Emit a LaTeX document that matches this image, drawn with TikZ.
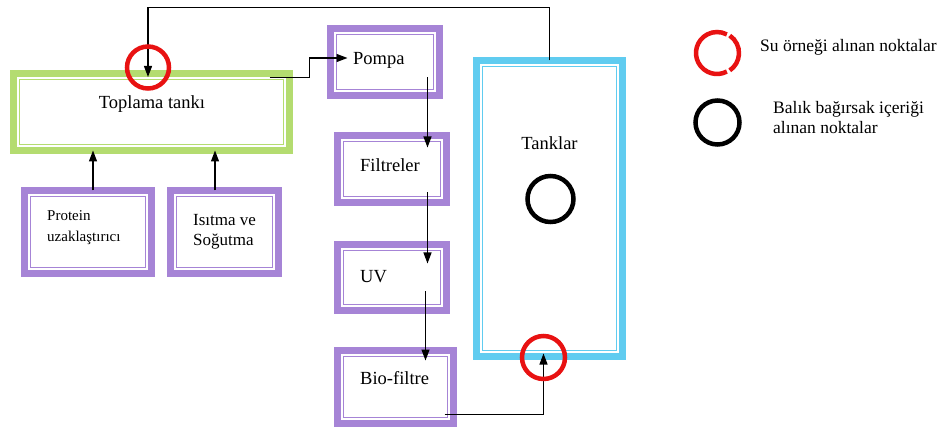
\documentclass[tikz,border=0pt]{standalone}
\usepackage{fontspec}
\setmainfont{Liberation Serif}
\newfontfamily\labelfont{Liberation Serif}
\usetikzlibrary{arrows.meta,calc}
\definecolor{tankgreen}{RGB}{180,220,112}
\definecolor{unitpurple}{RGB}{166,132,214}
\definecolor{tankblue}{RGB}{96,204,240}
\definecolor{ringred}{RGB}{232,18,18}
\tikzset{
    framebox/.style={draw=#1,line width=7.5pt,inner sep=0pt,outer sep=0pt,
        path picture={\draw[#1,line width=1.5pt]
            ([xshift=6pt,yshift=-6pt]path picture bounding box.north west) rectangle
            ([xshift=-6pt,yshift=6pt]path picture bounding box.south east);}},
    flowline/.style={->,line width=1.2pt},
    waterring/.style={draw=ringred,line width=4.5pt},
    gutring/.style={draw=black,line width=4.5pt},
    lbl/.style={inner sep=0pt,font=\labelfont\fontsize{18.5}{20}\selectfont},
    smalllbl/.style={inner sep=0pt,align=left,font=\labelfont\fontsize{15}{21}\selectfont},
    legendlbl/.style={inner sep=0pt,align=left,font=\labelfont\fontsize{17.5}{20}\selectfont}
}

\begin{document}
\begin{tikzpicture}[x=1pt,y=-1pt,>={Triangle[length=11pt,width=8pt]}]
    \useasboundingbox (0,0) rectangle (945,430);
    % Collecting tank and side units
    \node[framebox=tankgreen,minimum width=276pt,minimum height=77pt] (top) at (151.5,112) {};
    \node[lbl] (toptxt) at (152,104) {Toplama tankı};
    \node[framebox=unitpurple,minimum width=127pt,minimum height=83pt] (prot) at (88,232) {};
    \node[smalllbl,anchor=west] (prottxt) at (47,227.5) {Protein\\uzaklaştırıcı};
    \node[framebox=unitpurple,minimum width=108pt,minimum height=83pt] (isit) at (224.5,232) {};
    \node[smalllbl,anchor=west,font=\labelfont\fontsize{17}{20}\selectfont] (isittxt) at (193,232) {Isıtma ve\\Soğutma};
    % Treatment line
    \node[framebox=unitpurple,minimum width=109pt,minimum height=67pt] (pompa) at (385,62) {};
    \node[lbl,anchor=west] (pompatxt) at (353,60) {Pompa};
    \node[framebox=unitpurple,minimum width=109pt,minimum height=67pt] (filt) at (392,169) {};
    \node[lbl,anchor=west] (filttxt) at (360,165) {Filtreler};
    \node[framebox=unitpurple,minimum width=109pt,minimum height=66pt] (uv) at (392,277.5) {};
    \node[lbl,anchor=west] (uvtxt) at (360,277) {UV};
    \node[framebox=unitpurple,minimum width=116pt,minimum height=73pt] (bio) at (395.5,387) {};
    \node[lbl,anchor=west] (biotxt) at (360,378) {Bio-filtre};
    % Fish tanks
    \node[framebox=tankblue,minimum width=146pt,minimum height=296pt] (tank) at (549.5,208.5) {};
    \node[lbl] (tanktxt) at (549.5,143) {Tanklar};
    \draw[gutring] (550.5,199) circle[radius=23];
    % Flow
    \coordinate (retin) at (148,77);
    \draw[flowline] (tank.north) -- ++(0,-53) -| (retin);
    \draw[flowline] ($(top.north east)+(-20,4)$) -- ++(40,0) |- ($(pompa.west)+(17,-4)$);
    \draw[flowline] ($(pompa.south east)+(-12,-18)$) -- ($(filt.north east)+(-19,12)$);
    \draw[flowline] ($(filt.south east)+(-19,-10)$) -- ($(uv.north east)+(-19,19)$);
    \draw[flowline] ($(uv.south east)+(-21,-19)$) -- ($(bio.north east)+(-28,10)$);
    \draw[flowline] ($(bio.south east)+(-9,-9)$) -| ($(tank.south)+(-6,-3)$);
    \draw[flowline] ([xshift=5pt]prot.north) -- ([xshift=5pt]prot.north |- top.south);
    \draw[flowline] ([xshift=-9.5pt]isit.north) -- ([xshift=-9.5pt]isit.north |- top.south);
    % Sampling points
    \draw[waterring] (148,67.5) circle[radius=21];
    \draw[waterring] (543.5,357.5) circle[radius=21.5];
    % Legend
    \draw[waterring] ($(717,53)+(62:21)$) arc[start angle=62,end angle=298,radius=21];
    \draw[waterring] ($(718,53)+(-56:21)$) arc[start angle=-56,end angle=56,radius=21];
    \node[legendlbl,anchor=west] (watertxt) at (760,47) {Su örneği alınan noktalar};
    \draw[gutring] (717.5,122.5) circle[radius=22];
    \node[legendlbl,anchor=west] (guttxt) at (773,118) {Balık bağırsak içeriği\\alınan noktalar};
\end{tikzpicture}
\end{document}
